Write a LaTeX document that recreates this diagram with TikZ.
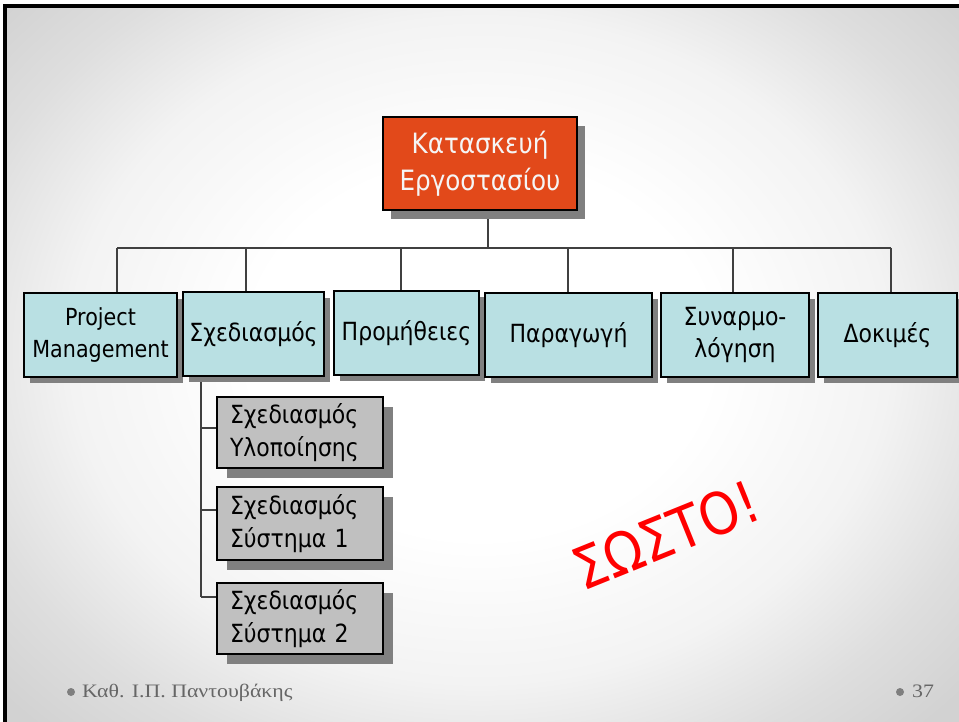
\documentclass[tikz,border=0pt]{standalone}
\usepackage{fontspec}
\setmainfont{DejaVu Sans}[FakeStretch=0.88]
\newfontfamily\footfont{Liberation Serif}[FakeStretch=1.15]
\usetikzlibrary{shadows,backgrounds}
\definecolor{topred}{HTML}{E2491A}
\definecolor{cyanbox}{HTML}{B9E0E3}
\definecolor{graybox}{HTML}{C0C0C0}
\definecolor{shadowgray}{HTML}{808080}
\definecolor{linegray}{HTML}{404040}
\definecolor{footgray}{HTML}{666666}
\definecolor{bulletgray}{HTML}{7F7F7F}
\definecolor{bgA}{HTML}{F3F3F3}
\definecolor{bgB}{HTML}{DEDEDE}
\definecolor{bgC}{HTML}{D2D2D2}
\definecolor{sostored}{HTML}{FF0000}
\pgfdeclareradialshading{slidebg}{\pgfpointorigin}{color(0bp)=(white); color(9bp)=(white); color(16bp)=(bgA); color(21bp)=(bgB); color(25bp)=(bgC); color(50bp)=(bgC)}
\begin{document}
\begin{tikzpicture}[x=1pt,y=-1pt,
  boxbase/.style={draw=black, line width=1.3pt, align=center, inner sep=0pt,
    font=\fontsize{25}{32}\selectfont},
  topbox/.style={boxbase, fill=topred, text=white!96!black, minimum width=194pt,
    minimum height=93pt, font=\fontsize{28}{37}\selectfont,
    general shadow={fill=shadowgray, shadow xshift=8pt, shadow yshift=-9pt}},
  lvbox/.style={boxbase, fill=cyanbox, minimum height=84pt,
    general shadow={fill=shadowgray, shadow xshift=6pt, shadow yshift=-6pt}},
  subbox/.style={boxbase, fill=graybox, minimum width=166pt, text width=140pt,
    inner xsep=13pt, align=left, font=\fontsize{25}{33}\selectfont,
    general shadow={fill=shadowgray, shadow xshift=10pt, shadow yshift=-10pt}},
  conn/.style={draw=linegray, line width=1.2pt},
  sosto/.style={text=sostored, font=\fontsize{58}{60}\selectfont, inner sep=0pt},
  foottext/.style={text=footgray, font=\footfont\fontsize{19}{21}\selectfont, inner sep=0pt},
  bulletdot/.style={circle, fill=bulletgray, minimum size=8pt, inner sep=0pt}
]
\useasboundingbox (0,0) rectangle (959,722);

% boxes
\node[topbox] (top) at (480,163.5) {Κατασκευή\\Εργοστασίου};
\node[lvbox, minimum width=153pt, font=\fontsize{23.5}{32}\selectfont] (pm) at (100.5,335) {Project\\Management};
\node[lvbox, minimum width=141pt] (sx) at (253.5,334) {Σχεδιασμός};
\node[lvbox, minimum width=145pt] (pr) at (406.5,333) {Προμήθειες};
\node[lvbox, minimum width=167pt] (pa) at (568.5,335) {Παραγωγή};
\node[lvbox, minimum width=148pt] (sy) at (735,335) {Συναρμο-\\λόγηση};
\node[lvbox, minimum width=139pt] (dk) at (887.5,335) {Δοκιμές};
\node[subbox, minimum height=71pt] (s1) at (300,432.5) {Σχεδιασμός\\Υλοποίησης};
\node[subbox, minimum height=73pt] (s2) at (300,523.5) {Σχεδιασμός\\Σύστημα 1};
\node[subbox, minimum height=71pt] (s3) at (300,618.5) {Σχεδιασμός\\Σύστημα 2};

% red stamp text
\node[sosto, rotate=22] (ok) at (666,535) {ΣΩΣΤΟ!};

% footer
\node[bulletdot] (bl1) at (71,692) {};
\node[foottext, anchor=base west] (ft) at (82,697) {Καθ. Ι.Π. Παντουβάκης};
\node[bulletdot] (bl2) at (900,692) {};
\node[foottext, anchor=base west] (pg) at (912,697) {37};

% coordinates for the connector bus
\coordinate (bus) at (488,248);
\coordinate (b1) at (117,248);
\coordinate (b2) at (246,248);
\coordinate (b3) at (401,248);
\coordinate (b4) at (568,248);
\coordinate (b5) at (733,248);
\coordinate (b6) at (891,248);
\coordinate (k1) at (201,428);
\coordinate (k2) at (201,510);
\coordinate (k3) at (201,597);

\begin{scope}[on background layer]
  \fill[white] (0,0) rectangle (959,722);
  \begin{scope}
    \clip (5,6) rectangle (959,722);
    \fill[bgC] (5,6) rectangle (959,722);
    \shade[shading=slidebg] (480,350) ellipse [x radius=640, y radius=520];
  \end{scope}
  \draw[line width=4pt, black] (5,722) -- (5,6) -- (959,6);
  % connectors
  \draw[conn] (top.south -| bus) -- (bus);
  \draw[conn] (b1) -- (b6);
  \draw[conn] (b1) -- (b1 |- pm.north);
  \draw[conn] (b2) -- (b2 |- sx.north);
  \draw[conn] (b3) -- (b3 |- pr.north);
  \draw[conn] (b4) -- (b4 |- pa.north);
  \draw[conn] (b5) -- (b5 |- sy.north);
  \draw[conn] (b6) -- (b6 |- dk.north);
  \draw[conn] (sx.south -| k1) -- (k3);
  \draw[conn] (k1) -- (k1 -| s1.west);
  \draw[conn] (k2) -- (k2 -| s2.west);
  \draw[conn] (k3) -- (k3 -| s3.west);
\end{scope}
\end{tikzpicture}
\end{document}
